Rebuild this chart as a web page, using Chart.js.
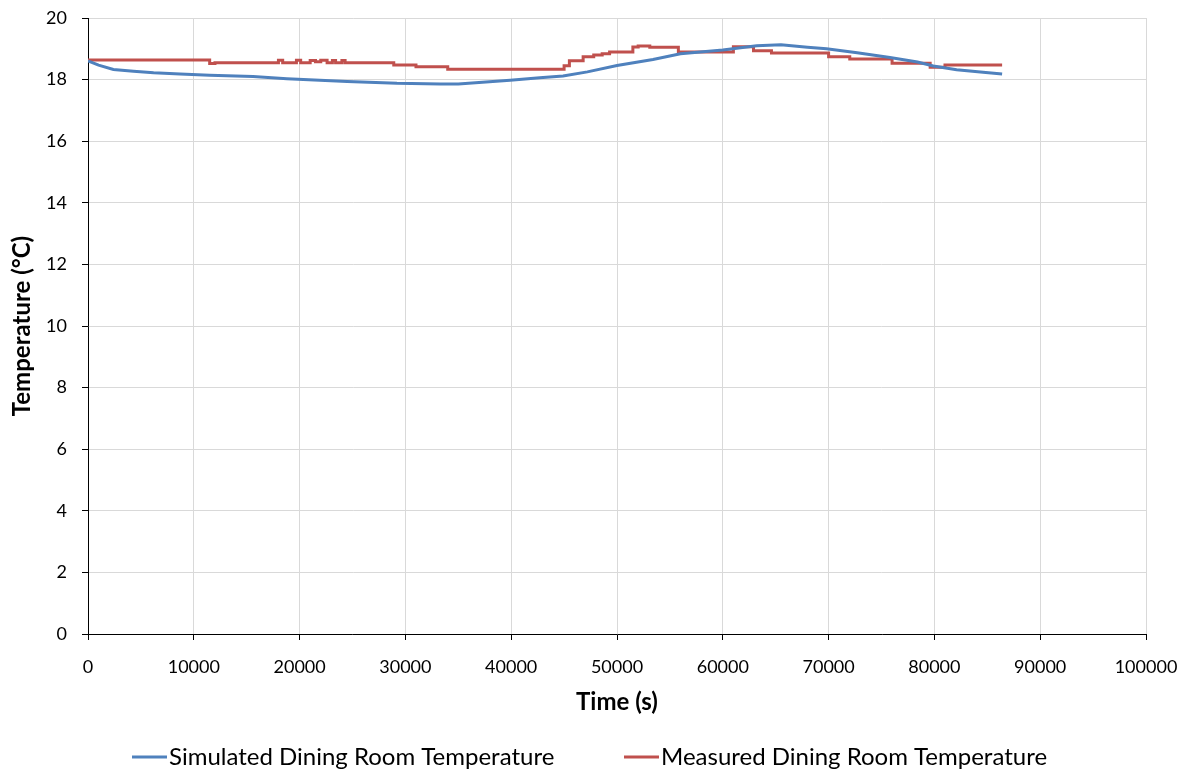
<!DOCTYPE html>
<html>
<head>
<meta charset="utf-8">
<script src="https://cdn.jsdelivr.net/npm/chart.js@4/dist/chart.umd.min.js"></script>
<style>
  html, body { margin: 0; padding: 0; background: #fff; }
  #wrap { width: 1201px; height: 772px; }
</style>
</head>
<body>
<div id="wrap"><canvas id="myChart" width="1201" height="772"></canvas></div>
<script>
// simulated dining room temperature (s, °C)
const simTime = [0, 1000, 2400, 4300, 6200, 8700, 11500, 15600, 18800, 24500, 29200, 33300, 35000,
  39900, 42700, 44900, 47200, 50000, 53400, 56000, 60000, 63200, 65500, 68000, 69800, 72700,
  75800, 78400, 79900, 82100, 84600, 86400];
const simTemp = [18.61, 18.47, 18.33, 18.27, 18.22, 18.18, 18.14, 18.10, 18.03, 17.94, 17.88, 17.86, 17.86,
  17.98, 18.06, 18.12, 18.25, 18.46, 18.65, 18.84, 18.96, 19.10, 19.13, 19.05, 19.00, 18.87,
  18.72, 18.57, 18.44, 18.32, 18.24, 18.18];

// measured dining room temperature, logged in steps (s, °C)
const measTime = [0, 11500, 12000, 18000, 18400, 19700, 20100, 21000, 21500, 22000, 22600, 23100, 23400,
  24000, 24300, 28900, 31000, 34000, 45000, 45500, 46800, 47800, 48600, 49300, 51500, 52000,
  53100, 55800, 61000, 62900, 64600, 70000, 72000, 76000, 79600, 81000, 86400];
const measTemp = [18.64, 18.52, 18.55, 18.63, 18.55, 18.63, 18.55, 18.62, 18.58, 18.63, 18.55, 18.62, 18.55,
  18.62, 18.55, 18.47, 18.42, 18.34, 18.45, 18.61, 18.74, 18.80, 18.84, 18.90, 19.06, 19.09,
  19.05, 18.90, 19.07, 18.94, 18.86, 18.74, 18.67, 18.53, 18.40, 18.47, 18.47];

const xTicks = [0, 10000, 20000, 30000, 40000, 50000, 60000, 70000, 80000, 90000, 100000];

const toPoints = (xs, ys) => xs.map((x, i) => ({ x: x, y: ys[i] }));

const FONT = 'Lato, "Open Sans", sans-serif';

// legend row under the axis title, short line + label per dataset
const bottomLegend = {
  id: 'bottomLegend',
  afterDraw(chart) {
    const c = chart.ctx;
    const starts = [132, 624];
    const y = 757;
    c.save();
    c.font = '24px ' + FONT;
    c.textBaseline = 'middle';
    c.fillStyle = '#000';
    chart.data.datasets.forEach((ds, i) => {
      const x = starts[i];
      c.strokeStyle = ds.borderColor;
      c.lineWidth = 3;
      c.beginPath();
      c.moveTo(x, y);
      c.lineTo(x + 35, y);
      c.stroke();
      c.fillText(ds.label, x + 37, y);
    });
    c.restore();
  }
};

const ctx = document.getElementById('myChart').getContext('2d');

const chart = new Chart(ctx, {
  type: 'line',
  data: {
    datasets: [{
      label: 'Simulated Dining Room Temperature',
      data: toPoints(simTime, simTemp),
      borderColor: '#4F81BD',
      backgroundColor: '#4F81BD',
      borderWidth: 3,
      pointRadius: 0,
      tension: 0
    },
    {
      label: 'Measured Dining Room Temperature',
      data: toPoints(measTime, measTemp),
      borderColor: '#C0504D',
      backgroundColor: '#C0504D',
      borderWidth: 3,
      pointRadius: 0,
      stepped: 'before'
    }]
  },
  plugins: [bottomLegend],
  options: {
    responsive: false,
    animation: false,
    layout: { padding: { left: 8, right: 55, top: 18, bottom: 55 } },
    plugins: {
      tooltip: { enabled: false },
      legend: { display: false }
    },
    scales: {
      x: {
        type: 'linear',
        min: 0,
        max: 100000,
        afterBuildTicks: (axis) => { axis.ticks = xTicks.map(v => ({ value: v })); },
        afterFit: (axis) => { axis.height = 83; },
        ticks: {
          font: { family: FONT, size: 18 },
          color: '#000',
          maxRotation: 0,
          padding: 16,
          callback: (v) => String(v)
        },
        grid: { color: '#d9d9d9', tickColor: '#000', tickLength: 6 },
        border: { color: '#000', width: 1 },
        title: {
          display: true,
          text: 'Time (s)',
          font: { family: FONT, size: 24, weight: 'bold' },
          color: '#000',
          padding: { top: 0, bottom: 0 }
        }
      },
      y: {
        min: 0,
        max: 20,
        afterFit: (axis) => {
          axis.width = 80;
          // label padding shouldn't push the plot area down
          axis.paddingTop = 10;
          axis.paddingBottom = 10;
        },
        ticks: {
          stepSize: 2,
          font: { family: FONT, size: 18 },
          color: '#000',
          padding: 15
        },
        grid: { color: '#d9d9d9', tickColor: '#000', tickLength: 6 },
        border: { color: '#000', width: 1 },
        title: {
          display: true,
          text: 'Temperature (°C)',
          font: { family: FONT, size: 24, weight: 'bold' },
          color: '#000',
          padding: { top: 0, bottom: 0 }
        }
      }
    }
  }
});
</script>
</body>
</html>
